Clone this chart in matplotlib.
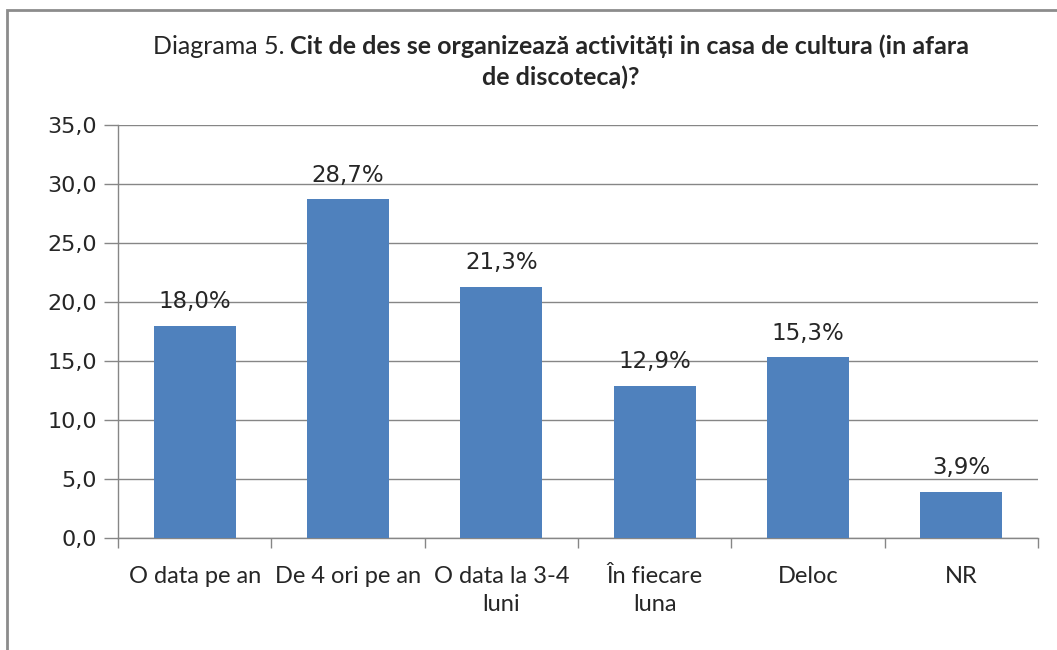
import matplotlib
matplotlib.use("Agg")
import matplotlib.pyplot as plt
from matplotlib.patches import Rectangle
from matplotlib.ticker import FixedLocator, FuncFormatter

categories = ["O data pe an", "De 4 ori pe an", "O data la 3-4\nluni", "În fiecare\nluna", "Deloc", "NR"]
values = [18.0, 28.7, 21.3, 12.9, 15.3, 3.9]
yticks = [0, 5, 10, 15, 20, 25, 30, 35]

W, H = 1057, 650
fig = plt.figure(figsize=(W / 100, H / 100), dpi=100)
fig.patch.set_facecolor("white")

# figure border (left and top visible)
fig.add_artist(Rectangle((7 / W, -0.1), 1.2, 1 - 10 / H + 0.1, transform=fig.transFigure,
                         fill=False, edgecolor="#8c8c8c", linewidth=2))

ax = fig.add_axes([118 / W, (H - 538) / H, (1038 - 118) / W, (538 - 125) / H])
grey = "#868686"
x = list(range(len(categories)))
bars = ax.bar(x, values, width=0.535, color="#4F81BD", zorder=3)

ax.set_xlim(-0.5, len(categories) - 0.5)
ax.set_ylim(0, 35)
ax.set_yticks(yticks)
ax.yaxis.set_major_formatter(FuncFormatter(lambda v, p: f"{v:.1f}".replace(".", ",")))
ax.tick_params(axis="y", length=10, width=1, color=grey, labelsize=16, pad=5, labelcolor="#262626")
ax.grid(axis="y", color=grey, linewidth=1, zorder=0)

ax.set_xticks(x)
ax.set_xticklabels(categories, fontsize=17, color="#262626", family=["Lato", "DejaVu Sans"], linespacing=1.4)
ax.tick_params(axis="x", which="major", length=0, pad=20)
ax.xaxis.set_minor_locator(FixedLocator([i - 0.5 for i in range(len(categories) + 1)]))
ax.tick_params(axis="x", which="minor", length=7, width=1, color=grey)
for label in ax.get_xticklabels():
    label.set_verticalalignment("top")

for s in ["top", "right"]:
    ax.spines[s].set_visible(False)
for s in ["left", "bottom"]:
    ax.spines[s].set_color(grey)
    ax.spines[s].set_linewidth(1)

for xi, v in zip(x, values):
    ax.annotate(f"{v:.1f}%".replace(".", ","), (xi, v), xytext=(0, 9), textcoords="offset points",
                ha="center", va="bottom", fontsize=16.5, color="#262626")

# title with mixed weights
fam = ["Lato", "DejaVu Sans"]
t1 = fig.text(0, 0, "Diagrama 5. ", fontsize=18, family=fam, color="#262626")
t2 = fig.text(0, 0, "Cit de des se organizează activități in casa de cultura (in afara",
              fontsize=18, family=fam, fontweight="bold", color="#262626")
fig.canvas.draw()
r = fig.canvas.get_renderer()
w1 = t1.get_window_extent(r).width
w2 = t2.get_window_extent(r).width
total = w1 + w2
cx = 561
y1 = H - 54
x0 = cx - total / 2
t1.set_position((x0 / W, y1 / H))
t2.set_position(((x0 + w1) / W, y1 / H))
fig.text(cx / W, (H - 85) / H, "de discoteca)?", fontsize=18, family=fam, fontweight="bold",
         color="#262626", ha="center")

fig.savefig("out.png", dpi=100, facecolor="white")
